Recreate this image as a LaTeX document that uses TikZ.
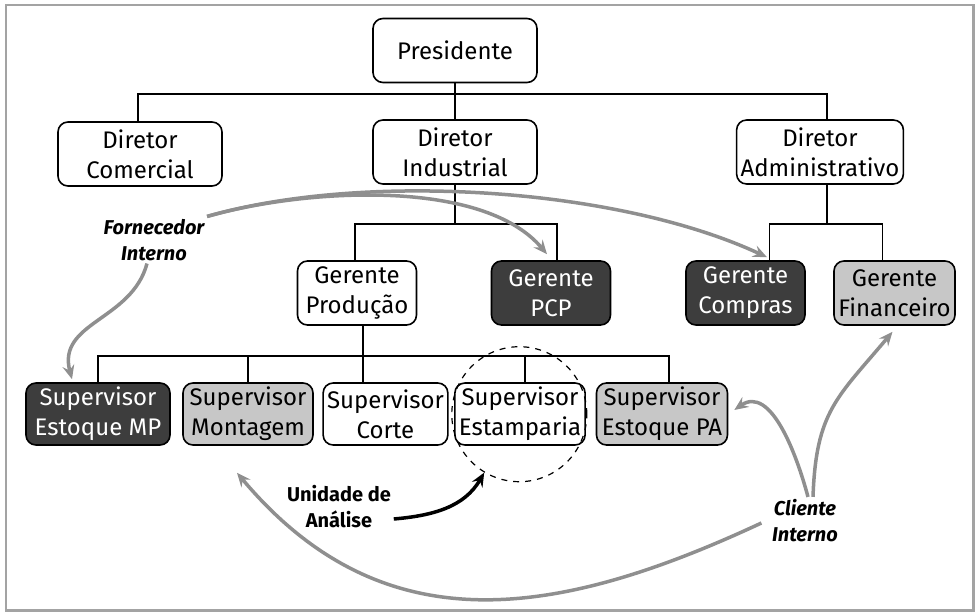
\documentclass[tikz,border=0pt]{standalone}
\usepackage{fontspec}
\setmainfont{Fira Sans}
\usetikzlibrary{arrows.meta}
\definecolor{escuro}{gray}{0.24}
\definecolor{claro}{gray}{0.78}
\definecolor{seta}{gray}{0.56}
\definecolor{moldura}{gray}{0.64}

\begin{document}
\begin{tikzpicture}[x=0.5pt,y=0.5pt,line width=0.8pt,
        caixa/.style={draw,rounded corners=5pt,align=center,minimum height=32pt,inner xsep=2pt,inner ysep=1pt,font=\fontsize{12}{15}\selectfont},
        branca/.style={caixa,fill=white},
        cinza/.style={caixa,fill=claro},
        preta/.style={caixa,fill=escuro,text=white},
        rotulo/.style={align=center,inner sep=1pt,font=\fontsize{10}{13}\selectfont\bfseries},
        rotuloit/.style={rotulo,font=\fontsize{10}{13}\selectfont\bfseries\itshape},
        fluxo/.style={-{Stealth[length=7pt,width=6pt,inset=2.5pt]},line width=1.75pt,seta},
        foco/.style={circle,draw,dashed,line width=0.6pt,minimum size=67.5pt,inner sep=0pt}]
        \useasboundingbox (0,0) rectangle (975,612);
        \draw[moldura,line width=1.25pt] (6,1.5) rectangle (973.5,607);

        % presidencia e diretorias
        \node[branca,minimum width=82pt] (pres) at (455,561.5) {Presidente};
        \node[branca,minimum width=82pt] (dcom) at (140,458) {Diretor\\Comercial};
        \node[branca,minimum width=82pt] (dind) at (455,460) {Diretor\\Industrial};
        \node[branca,minimum width=82pt] (dadm) at (820,460) {Diretor\\Administrativo};

        % gerencias
        \node[branca,minimum width=59.5pt] (gprod) at (357,319) {Gerente\\Produção};
        \node[preta,minimum width=59.5pt] (gpcp) at (551,319) {Gerente\\PCP};
        \node[preta,minimum width=59.5pt] (gcomp) at (745.5,319) {Gerente\\Compras};
        \node[cinza,minimum width=60.5pt] (gfin) at (894.5,319) {Gerente\\Financeiro};

        % supervisoes
        \node[preta,minimum width=72pt,minimum height=31pt] (smp) at (98,198) {Supervisor\\Estoque MP};
        \node[cinza,minimum width=65pt,minimum height=31pt] (smont) at (248,198) {Supervisor\\Montagem};
        \node[branca,minimum width=59.5pt,minimum height=31pt] (scorte) at (385.5,198) {Supervisor\\Corte};
        \node[branca,minimum width=64.5pt,minimum height=31pt] (sestamp) at (520,198) {Supervisor\\Estamparia};
        \node[cinza,minimum width=65.5pt,minimum height=31pt] (spa) at (662,198) {Supervisor\\Estoque PA};

        \node[foco] (unidade) at (519.3,197.8) {};

        % ligacoes do organograma
        \draw (pres.south) -- ++(0,-11) coordinate (dbus);
        \draw (pres.south) -- (dind.north);
        \draw ([xshift=-1pt]dcom.north) |- (dbus) -| ([xshift=3.5pt]dadm.north);
        \draw (dind.south) -- ++(0,-39) coordinate (gbus);
        \draw ([xshift=-1pt]gprod.north) |- (gbus) -| ([xshift=3pt]gpcp.north);
        \draw ([xshift=3.5pt]dadm.south) -- ++(0,-39) coordinate (abus);
        \draw ([xshift=12pt]gcomp.north) |- (abus) -| ([xshift=-6pt]gfin.north);
        \draw ([xshift=3pt]gprod.south) -- ++(0,-30) coordinate (sbus);
        \draw (smp.north) |- (sbus) -| ([xshift=3.5pt]spa.north);
        \draw (smont.north) -- (smont.north |- sbus);
        \draw (sbus) -- (sbus |- scorte.north);
        \draw ([xshift=2.5pt]sestamp.north) -- ([xshift=2.5pt]sestamp.north |- sbus);

        % rotulos
        \node[rotuloit] (forn) at (154,372) {Fornecedor\\Interno};
        \node[rotulo] (unid) at (339,105) {Unidade de\\Análise};
        \node[rotuloit] (cli) at (805,91) {Cliente\\Interno};

        % setas de fornecedor e cliente
        \draw[fluxo] (forn.north east) to[out=16,in=130,looseness=0.75] ([xshift=-2pt,yshift=3pt]gpcp.north);
        \draw[fluxo] (forn.north east) to[out=16,in=155,looseness=0.75] ([xshift=10.75pt,yshift=1.5pt]gcomp.north);
        \draw[fluxo] ([xshift=-3.5pt]forn.south) to[out=-105,in=105,looseness=1.1] ([xshift=-13pt,yshift=1.5pt]smp.north);
        \draw[fluxo] ([xshift=1.5pt]cli.north) to[out=105,in=35] ([xshift=3pt,yshift=2pt]spa.east);
        \draw[fluxo] ([xshift=4pt]cli.north) to[out=88,in=230,looseness=1.2] ([xshift=-1pt,yshift=-3pt]gfin.south);
        \draw[fluxo] ([xshift=-4pt,yshift=-1pt]cli.west) to[out=205,in=-50,looseness=1.1] ([xshift=-5.5pt,yshift=-13.5pt]smont.south);
        \draw[fluxo,black] ([yshift=-6pt]unid.east) to[out=5,in=-120] (unidade.239);
\end{tikzpicture}
\end{document}
